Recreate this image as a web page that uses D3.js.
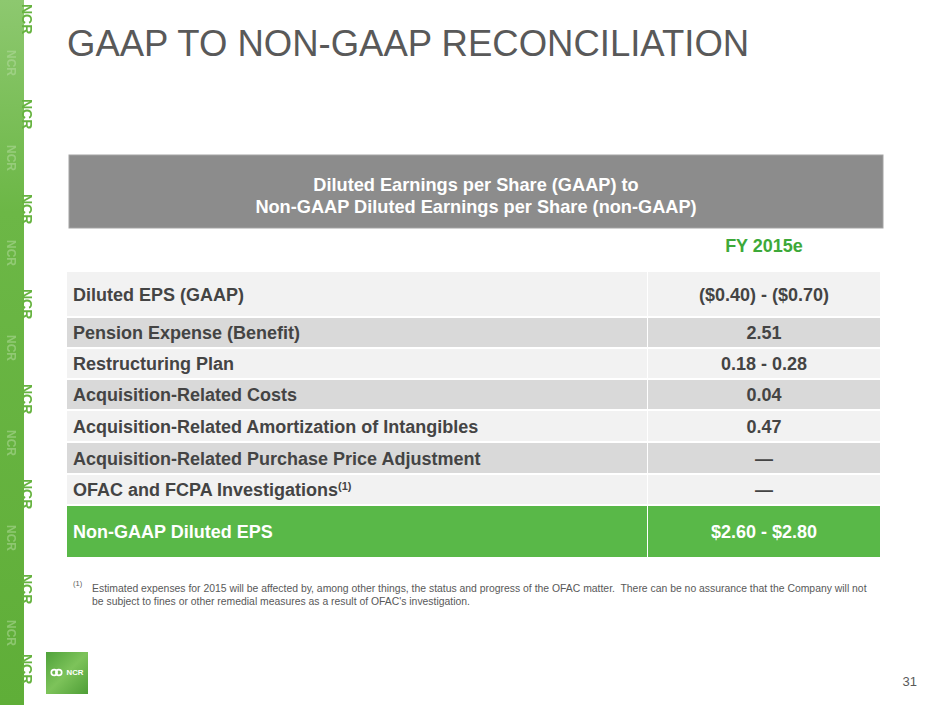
<!DOCTYPE html>
<html>
<head>
<meta charset="utf-8">
<script src="https://cdn.jsdelivr.net/npm/d3@7"></script>
<style>
  body { margin: 0; background: #fff; }
  svg { display: block; font-family: "Liberation Sans", Arial, sans-serif; }
</style>
</head>
<body>
<div id="slide"></div>
<script>
// ---- data ----
const slideTitle = "GAAP TO NON-GAAP RECONCILIATION";
const headerLines = [
  "Diluted Earnings per Share (GAAP) to",
  "Non-GAAP Diluted Earnings per Share (non-GAAP)"
];
const columnLabel = "FY 2015e";
const rowLabels = [
  "Diluted EPS (GAAP)",
  "Pension Expense (Benefit)",
  "Restructuring Plan",
  "Acquisition-Related Costs",
  "Acquisition-Related Amortization of Intangibles",
  "Acquisition-Related Purchase Price Adjustment",
  "OFAC and FCPA Investigations",
  "Non-GAAP Diluted EPS"
];
const fy2015e = [
  "($0.40) - ($0.70)",
  "2.51",
  "0.18 - 0.28",
  "0.04",
  "0.47",
  "\u2014",
  "\u2014",
  "$2.60 - $2.80"
];
const footnoteRows = [6];   // rows that carry note (1)
const footnoteLines = [
  "Estimated expenses for 2015 will be affected by, among other things, the status and progress of the OFAC matter.  There can be no assurance that the Company will not",
  "be subject to fines or other remedial measures as a result of OFAC's investigation."
];
const pageNumber = "31";
const brand = "NCR";

// ---- layout ----
const width = 940;
const height = 705;
const rowHeights = [44, 29, 29, 29, 30, 30, 29, 51];
const rowGap = 2;
const tableTop = 272;
const tableLeft = 67;
const tableRight = 880;
const splitX = 647;

const svg = d3.select("#slide")
  .append("svg")
  .attr("width", width)
  .attr("height", height);

const defs = svg.append("defs");

// left decorative strip
const stripGrad = defs.append("linearGradient")
  .attr("id", "strip").attr("x1", 0).attr("y1", 0).attr("x2", 0).attr("y2", 1);
stripGrad.append("stop").attr("offset", "0%").attr("stop-color", "#8dc86f");
stripGrad.append("stop").attr("offset", "30%").attr("stop-color", "#6cb746");
stripGrad.append("stop").attr("offset", "100%").attr("stop-color", "#5fae38");

defs.append("filter").attr("id", "soft")
  .append("feGaussianBlur").attr("stdDeviation", 0.7);

svg.append("rect")
  .attr("x", 0).attr("y", 0)
  .attr("width", 24).attr("height", height)
  .attr("fill", "url(#strip)");

const stripMarks = [0, 95, 190, 285, 380, 475, 570, 650];
const stripText = svg.append("g").attr("filter", "url(#soft)");
stripText.selectAll("text.edge")
  .data(stripMarks)
  .join("text")
  .attr("class", "edge")
  .attr("transform", (d) => `translate(22,${d + 4}) rotate(90)`)
  .attr("font-size", 14)
  .attr("font-weight", "bold")
  .attr("fill", "#66b33f")
  .text(brand);
stripText.selectAll("text.inner")
  .data(stripMarks.slice(0, -1))
  .join("text")
  .attr("class", "inner")
  .attr("transform", (d) => `translate(7,${d + 50}) rotate(90)`)
  .attr("font-size", 12)
  .attr("font-weight", "bold")
  .attr("fill", "#b9dea5")
  .attr("opacity", 0.5)
  .text(brand);

// title
svg.append("text")
  .attr("x", 67)
  .attr("y", 56)
  .attr("font-size", 36.5)
  .attr("fill", "#595959")
  .text(slideTitle);

// gray header box
svg.append("rect")
  .attr("x", 69).attr("y", 155)
  .attr("width", 814).attr("height", 73)
  .attr("fill", "#8c8c8c")
  .attr("stroke", "#a3a3a3")
  .attr("stroke-width", 1);

svg.append("g")
  .selectAll("text")
  .data(headerLines)
  .join("text")
  .attr("x", 476)
  .attr("y", (d, i) => 191 + i * 21.5)
  .attr("text-anchor", "middle")
  .attr("font-size", 18.2)
  .attr("font-weight", "bold")
  .attr("fill", "#ffffff")
  .text((d) => d);

// column header
svg.append("text")
  .attr("x", (splitX + 1 + tableRight) / 2)
  .attr("y", 252)
  .attr("text-anchor", "middle")
  .attr("font-size", 18)
  .attr("font-weight", "bold")
  .attr("fill", "#3da939")
  .text(columnLabel);

// table rows
const tops = rowHeights.map((h, i) =>
  tableTop + d3.sum(rowHeights.slice(0, i)) + i * rowGap);
const last = rowLabels.length - 1;
const fillFor = (i) => (i === last ? "#59b848" : i % 2 === 0 ? "#f2f2f2" : "#d9d9d9");
const textFor = (i) => (i === last ? "#ffffff" : "#444444");

const rows = svg.append("g")
  .selectAll("g")
  .data(rowLabels.map((label, i) => ({ label, value: fy2015e[i], i })))
  .join("g")
  .attr("transform", (d) => `translate(0,${tops[d.i]})`);

rows.append("rect")
  .attr("x", tableLeft)
  .attr("width", splitX - tableLeft)
  .attr("height", (d) => rowHeights[d.i])
  .attr("fill", (d) => fillFor(d.i));

rows.append("rect")
  .attr("x", splitX + 1)
  .attr("width", tableRight - splitX - 1)
  .attr("height", (d) => rowHeights[d.i])
  .attr("fill", (d) => fillFor(d.i));

const labels = rows.append("text")
  .attr("x", 73)
  .attr("y", (d) => rowHeights[d.i] / 2 + 6.5)
  .attr("font-size", 18)
  .attr("font-weight", "bold")
  .attr("fill", (d) => textFor(d.i))
  .text((d) => d.label);

labels.filter((d) => footnoteRows.includes(d.i))
  .append("tspan")
  .attr("font-size", 11)
  .attr("dy", -6)
  .text("(1)");

rows.append("text")
  .attr("x", (splitX + 1 + tableRight) / 2)
  .attr("y", (d) => rowHeights[d.i] / 2 + 6.5)
  .attr("text-anchor", "middle")
  .attr("font-size", 18)
  .attr("font-weight", "bold")
  .attr("fill", (d) => textFor(d.i))
  .text((d) => d.value);

// footnote
svg.append("text")
  .attr("x", 73)
  .attr("y", 586)
  .attr("font-size", 7.5)
  .attr("fill", "#595959")
  .text("(1)");

svg.append("g")
  .selectAll("text")
  .data(footnoteLines)
  .join("text")
  .attr("x", 92)
  .attr("y", (d, i) => 592 + i * 13)
  .attr("font-size", 10.4)
  .attr("fill", "#595959")
  .style("white-space", "pre")
  .text((d) => d);

// NCR logo
const logoGrad = defs.append("linearGradient")
  .attr("id", "logo").attr("x1", 0).attr("y1", 0).attr("x2", 1).attr("y2", 1);
logoGrad.append("stop").attr("offset", "0%").attr("stop-color", "#4fa23a");
logoGrad.append("stop").attr("offset", "50%").attr("stop-color", "#7dc35a");
logoGrad.append("stop").attr("offset", "100%").attr("stop-color", "#4e9e36");

const logo = svg.append("g").attr("transform", "translate(46,652)");
logo.append("rect")
  .attr("width", 42).attr("height", 42)
  .attr("fill", "url(#logo)");
logo.selectAll("circle")
  .data([8.2, 12.8])
  .join("circle")
  .attr("cx", (d) => d).attr("cy", 20.5).attr("r", 2.9)
  .attr("fill", "none").attr("stroke", "#fff").attr("stroke-width", 1.7);
logo.append("text")
  .attr("x", 20.5).attr("y", 23.3)
  .attr("font-size", 7.8)
  .attr("font-weight", "bold")
  .attr("fill", "#fff")
  .text(brand);

// page number
svg.append("text")
  .attr("x", 917)
  .attr("y", 686)
  .attr("text-anchor", "end")
  .attr("font-size", 13)
  .attr("fill", "#595959")
  .text(pageNumber);
</script>
</body>
</html>
